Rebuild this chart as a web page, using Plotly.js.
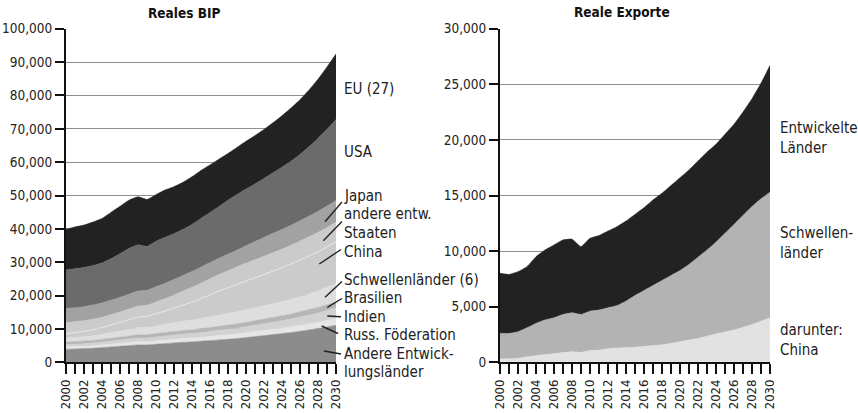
<!DOCTYPE html>
<html><head><meta charset="utf-8">
<script src="https://cdn.plot.ly/plotly-3.0.1.min.js"></script>
<style>html,body{margin:0;padding:0;background:#fff;}#chart{width:858px;height:413px;}</style>
</head><body><div id="chart"></div>
<script>
// ---------- data ----------
const years = [2000,2001,2002,2003,2004,2005,2006,2007,2008,2009,2010,2011,2012,2013,2014,2015,2016,2017,2018,2019,2020,2021,2022,2023,2024,2025,2026,2027,2028,2029,2030];
const xTickVals = [2000,2002,2004,2006,2008,2010,2012,2014,2016,2018,2020,2022,2024,2026,2028,2030];
const xTickText = ['2000','2002','2004','2006','2008','2010','2012','2014','2016','2018','2020','2022','2024','2026','2028','2030'];
const bipTickVals = [0,10000,20000,30000,40000,50000,60000,70000,80000,90000,100000];
const bipTickText = ['0','10,000','20,000','30,000','40,000','50,000','60,000','70,000','80,000','90,000','100,000'];
const expTickVals = [0,5000,10000,15000,20000,25000,30000];
const expTickText = ['0','5,000','10,000','15,000','20,000','25,000','30,000'];

// Reales BIP (stacked, bottom to top)
const bipAndere = [3900,4000,4100,4200,4400,4600,4800,5000,5200,5200,5400,5600,5800,6000,6100,6300,6500,6700,6900,7100,7400,7700,8000,8300,8600,8900,9300,9700,10100,10600,11100];
const bipRuss = [700,700,720,750,800,850,900,950,1000,950,1000,1050,1100,1150,1200,1220,1250,1300,1350,1400,1450,1500,1550,1600,1650,1700,1750,1800,1870,1930,2000];
const bipIndien = [700,720,750,800,850,900,950,1000,1050,1100,1150,1200,1250,1300,1350,1400,1500,1600,1650,1700,1800,1900,2000,2100,2200,2350,2500,2650,2800,3000,3200];
const bipBrasilien = [800,800,800,820,850,880,900,950,1000,1000,1050,1050,1080,1100,1120,1150,1180,1200,1250,1300,1330,1370,1400,1450,1500,1550,1600,1650,1700,1750,1800];
const bipSchwellen = [1200,1250,1300,1400,1500,1650,1800,1950,2100,2150,2300,2450,2600,2750,2900,3050,3200,3350,3500,3650,3800,3900,4000,4100,4200,4350,4500,4700,4900,5200,5500];
const bipChina = [1300,1450,1600,1800,2000,2300,2600,2900,3200,3400,3700,4000,4400,4850,5400,6000,6600,7200,7700,8200,8600,9000,9400,9800,10200,10600,11000,11400,11800,12150,12500];
const bipAndereEntw = [3300,3250,3200,3150,3100,3100,3100,3200,3300,3300,3500,3700,3950,4200,4400,4600,4800,4950,5100,5250,5350,5400,5450,5500,5550,5600,5650,5700,5750,5800,5900];
const bipJapan = [4200,4200,4200,4250,4300,4350,4400,4450,4500,4500,4550,4600,4650,4700,4750,4800,4850,4900,4950,5000,5200,5400,5600,5800,5900,6000,6100,6200,6300,6400,6500];
const bipUSA = [11600,11700,11750,11850,12000,12400,13100,13700,13850,13100,13600,13800,13700,13800,14100,14600,15000,15500,16200,16700,17000,17300,17700,18150,18700,19250,19900,20800,21900,23000,24300];
const bipEU = [12100,12500,12700,13000,13300,13900,14200,14500,14400,14100,14000,14200,14100,14100,14300,14400,14300,14200,14000,14100,14300,14500,14700,15000,15400,15900,16400,17000,17700,18700,19600];

// Reale Exporte (stacked, bottom to top)
const expChina = [300,320,350,500,600,700,780,880,950,880,1050,1100,1220,1280,1320,1360,1420,1500,1580,1700,1850,2000,2150,2350,2550,2720,2900,3150,3400,3700,4000];
const expSchwellenOhneChina = [2300,2280,2400,2600,2900,3100,3220,3420,3500,3420,3550,3600,3680,3820,4180,4640,5030,5400,5770,6100,6400,6800,7300,7750,8250,8880,9500,10050,10600,11000,11300];
const expEntwickelt = [5400,5300,5400,5500,6000,6300,6550,6700,6620,6100,6550,6700,6900,7100,7200,7300,7450,7700,7850,8100,8350,8500,8650,8800,8800,8900,9000,9300,9700,10400,11400];

// ---------- drawing ----------
const FONT = '"DejaVu Sans Condensed", "Liberation Sans Narrow", "Arial Narrow", sans-serif';
const W = 858, H = 413;
const px = x => x / W, py = y => 1 - y / H;

function area(name, y, color, xa, ya, group, lineColor, lineWidth) {
  return {
    type: 'scatter', mode: 'lines', name: name, x: years, y: y,
    xaxis: xa, yaxis: ya, stackgroup: group,
    fillcolor: color,
    line: {color: lineColor || color, width: lineWidth === undefined ? 0.6 : lineWidth, shape: 'spline', smoothing: 0.4},
    hoverinfo: 'x+y+name'
  };
}

const traces = [
  area('Andere Entwicklungsländer', bipAndere, '#8c8c8c', 'x', 'y', 'bip'),
  area('Russ. Föderation', bipRuss, '#e6e6e6', 'x', 'y', 'bip'),
  area('Indien', bipIndien, '#d2d2d2', 'x', 'y', 'bip'),
  area('Brasilien', bipBrasilien, '#b6b6b6', 'x', 'y', 'bip'),
  area('Schwellenländer (6)', bipSchwellen, '#dedede', 'x', 'y', 'bip'),
  area('China', bipChina, '#cbcbcb', 'x', 'y', 'bip', '#ececec', 0.8),
  area('andere entw. Staaten', bipAndereEntw, '#cbcbcb', 'x', 'y', 'bip'),
  area('Japan', bipJapan, '#a2a2a2', 'x', 'y', 'bip'),
  area('USA', bipUSA, '#6b6b6b', 'x', 'y', 'bip'),
  area('EU (27)', bipEU, '#222222', 'x', 'y', 'bip'),
  area('darunter: China', expChina, '#e2e2e2', 'x2', 'y2', 'exp'),
  area('Schwellenländer', expSchwellenOhneChina, '#b3b3b3', 'x2', 'y2', 'exp'),
  area('Entwickelte Länder', expEntwickelt, '#222222', 'x2', 'y2', 'exp')
];

function xAxis(domain, anchor) {
  return {
    domain: domain, anchor: anchor, range: [2000, 2030],
    tickmode: 'array', tickvals: xTickVals, ticktext: xTickText, tickangle: -90,
    ticks: 'outside', ticklen: 10, tickwidth: 2, tickcolor: '#111',
    minor: {ticks: 'outside', ticklen: 10, tickwidth: 2, tickcolor: '#111', tick0: 2000, dtick: 1, showgrid: false},
    showline: true, linewidth: 2, linecolor: '#111', showgrid: false, zeroline: false,
    tickfont: {family: FONT, size: 13, color: '#222'}, automargin: false, fixedrange: true
  };
}
function yAxis(domain, anchor, range, vals, text) {
  return {
    domain: domain, anchor: anchor, range: range,
    tickmode: 'array', tickvals: vals, ticktext: text,
    ticks: 'outside', ticklen: 9, tickwidth: 2, tickcolor: '#111',
    showline: true, linewidth: 2, linecolor: '#111',
    showgrid: true, gridcolor: '#8f8f8f', gridwidth: 1, zeroline: false,
    tickfont: {family: FONT, size: 13.5, color: '#222'}, automargin: false, fixedrange: true
  };
}

const yDom = [py(362.3), py(28.7)];

function label(text, x, y) {
  return {text: text, x: px(x), y: py(y), xref: 'paper', yref: 'paper', xanchor: 'left', yanchor: 'middle',
          showarrow: false, font: {family: FONT, size: 15, color: '#222'}, align: 'left'};
}
function title(text, x, y) {
  return {text: '<b>' + text + '</b>', x: px(x), y: py(y), xref: 'paper', yref: 'paper', xanchor: 'center', yanchor: 'middle',
          showarrow: false, font: {family: FONT, size: 13.5, color: '#111'}};
}
function pointer(x0, y0, x1, y1) {
  return {type: 'line', xref: 'paper', yref: 'paper', x0: px(x0), y0: py(y0), x1: px(x1), y1: py(y1),
          line: {color: '#222', width: 1.4}};
}

const annotations = [
  title('Reales BIP', 184, 13),
  title('Reale Exporte', 622, 12),
  label('EU (27)', 342, 89),
  label('USA', 342, 152),
  label('Japan', 342, 196),
  label('andere entw.', 342, 214),
  label('Staaten', 342, 233),
  label('China', 342, 252),
  label('Schwellenländer (6)', 342, 280),
  label('Brasilien', 342, 298),
  label('Indien', 342, 317),
  label('Russ. Föderation', 342, 335),
  label('Andere Entwick-', 342, 354),
  label('lungsländer', 342, 372),
  label('Entwickelte', 778, 128),
  label('Länder', 778, 148),
  label('Schwellen-', 778, 233),
  label('länder', 778, 253),
  label('darunter:', 778, 330),
  label('China', 778, 350)
];

const shapes = [
  pointer(325, 221.7, 342, 202),
  pointer(323.3, 240.7, 342, 221.5),
  pointer(319.3, 264, 341, 249.5),
  pointer(325, 297.3, 342, 281.5),
  pointer(327.3, 307.3, 342, 298.5),
  pointer(327.3, 316, 341, 316.7),
  pointer(321.7, 326, 338, 333.5),
  pointer(324, 351, 341, 354)
];

const layout = {
  width: W, height: H, margin: {l: 0, r: 0, t: 0, b: 0},
  paper_bgcolor: '#ffffff', plot_bgcolor: '#ffffff', showlegend: false,
  font: {family: FONT, size: 15, color: '#222'},
  xaxis: xAxis([px(66), px(336)], 'y'),
  yaxis: yAxis(yDom, 'x', [0, 100000], bipTickVals, bipTickText),
  xaxis2: xAxis([px(500), px(770)], 'y2'),
  yaxis2: yAxis(yDom, 'x2', [0, 30000], expTickVals, expTickText),
  annotations: annotations, shapes: shapes
};

Plotly.newPlot('chart', traces, layout, {displayModeBar: false, staticPlot: true});
</script>
</body></html>
